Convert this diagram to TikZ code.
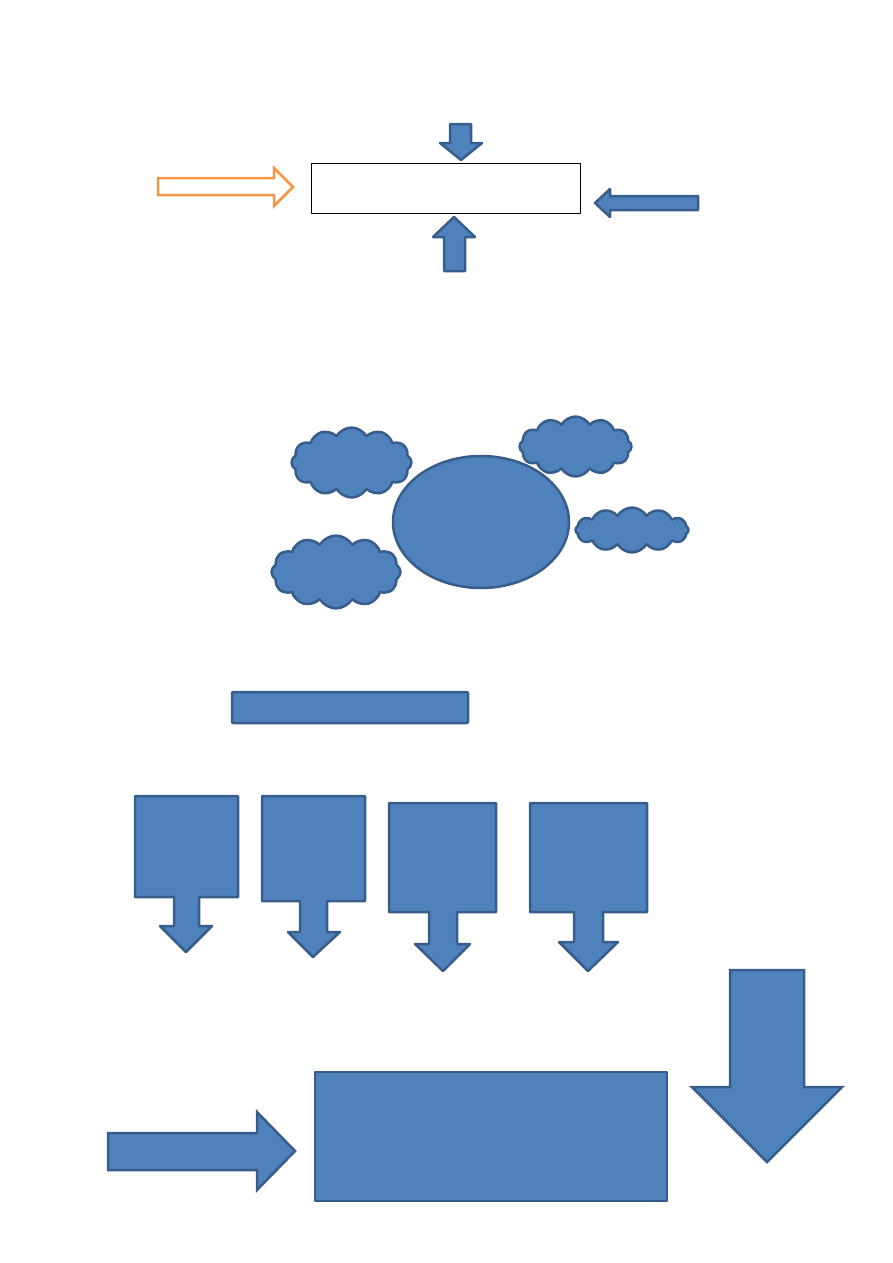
\documentclass[tikz,border=0pt]{standalone}
\usetikzlibrary{shapes.symbols,shapes.geometric}
\definecolor{shapefill}{HTML}{4F81BD}
\definecolor{shapeline}{HTML}{385D8A}
\definecolor{arroworange}{HTML}{F79646}
\tikzset{
  blueshape/.style={fill=shapefill,draw=shapeline,line width=2.5pt,line join=round},
  puffcloud/.style={blueshape,cloud,cloud puffs=12,cloud puff arc=120,inner sep=0pt},
}
\begin{document}
\begin{tikzpicture}[x=1pt,y=-1pt,line cap=round,line join=round]
	\useasboundingbox (0,0) rectangle (893,1263);
	% top part: white box with four block arrows
	\node[draw=black,line width=1pt,minimum width=269pt,minimum height=50pt,inner sep=0pt] (topbox) at (445.5,188) {};
	\draw[draw=arroworange,fill=white,line width=2.5pt,line join=miter] (158,178) -- (274,178) -- (274,168) -- (293,187) -- (274,206) -- (274,195) -- (158,195) -- cycle;
	\draw[blueshape] (450,124) -- (471,124) -- (471,143) -- (482,143) -- (461,160) -- (440,143) -- (450,143) -- cycle;
	\draw[blueshape] (444,271) -- (465,271) -- (465,237) -- (475,237) -- (454,217) -- (433,237) -- (444,237) -- cycle;
	\draw[blueshape] (698,196) -- (610,196) -- (610,189) -- (595,203) -- (610,217) -- (610,210) -- (698,210) -- cycle;
	% middle part: ellipse with clouds
	\node[puffcloud,aspect=1.7,minimum width=120pt,minimum height=70pt] (cloudul) at (351.5,462.5) {};
	\node[puffcloud,aspect=1.85,minimum width=112pt,minimum height=60pt] (cloudur) at (575.5,446.5) {};
	\node[puffcloud,aspect=2.5,minimum width=113pt,minimum height=45pt] (cloudr) at (632,530) {};
	\node[puffcloud,aspect=1.75,minimum width=129pt,minimum height=73pt] (cloudll) at (336,572) {};
	\node[blueshape,ellipse,minimum width=176pt,minimum height=132pt,inner sep=0pt] (centre) at (481,522) {};
	% bar
	\node[blueshape,rounded corners=1pt,minimum width=236pt,minimum height=31pt,inner sep=0pt] (bar) at (350,707.5) {};
	% four boxes with down arrows
	\draw[blueshape] (135,796) -- (238,796) -- (238,897) -- (199,897) -- (199,926) -- (212,926) -- (186,952) -- (160,926) -- (174,926) -- (174,897) -- (135,897) -- cycle;
	\draw[blueshape] (262,796) -- (365,796) -- (365,901) -- (327,901) -- (327,932) -- (340,932) -- (313,957) -- (288,932) -- (300,932) -- (300,901) -- (262,901) -- cycle;
	\draw[blueshape] (389,803) -- (496,803) -- (496,912) -- (457,912) -- (457,944) -- (470,944) -- (443,971) -- (415,944) -- (429,944) -- (429,912) -- (389,912) -- cycle;
	\draw[blueshape] (530,803) -- (647,803) -- (647,912) -- (603,912) -- (603,942) -- (618,942) -- (588,971) -- (559,942) -- (574,942) -- (574,912) -- (530,912) -- cycle;
	% bottom part
	\draw[blueshape,line join=miter] (108,1133) -- (257,1133) -- (257,1112) -- (295,1151) -- (257,1190) -- (257,1170) -- (108,1170) -- cycle;
	\node[blueshape,minimum width=352pt,minimum height=129pt,inner sep=0pt] (bigbox) at (491,1136.5) {};
	\draw[blueshape,line join=miter] (730,970) -- (804,970) -- (804,1087) -- (842,1087) -- (767,1162) -- (692,1087) -- (730,1087) -- cycle;
\end{tikzpicture}
\end{document}
